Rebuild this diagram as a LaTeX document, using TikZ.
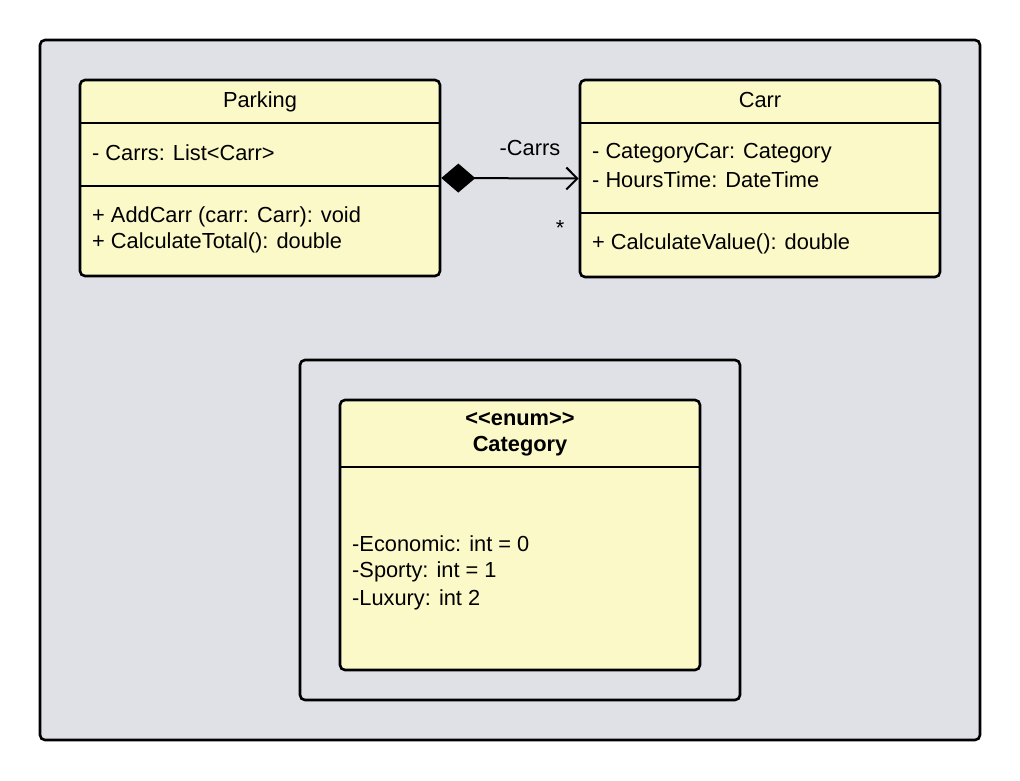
\documentclass[tikz,border=0pt]{standalone}
\usepackage{fontspec}
\setmainfont{Liberation Sans}[Ligatures=NoCommon]
\usetikzlibrary{arrows.meta}
\definecolor{bggray}{HTML}{DFE1E6}
\definecolor{umlyellow}{HTML}{FBF9C8}
\tikzset{
  frame/.style={draw=black, line width=2.6pt, rounded corners=5pt, fill=bggray},
  classbox/.style={draw=black, line width=2.6pt, rounded corners=5pt, fill=umlyellow, inner sep=0pt},
  divider/.style={draw=black, line width=2.6pt},
  txt/.style={font=\fontsize{21.8}{25}\selectfont, inner sep=0pt, anchor=west},
  ttl/.style={font=\fontsize{21.8}{25}\selectfont, inner sep=0pt},
  btxt/.style={font=\fontsize{21.8}{25}\selectfont\bfseries, inner sep=0pt},
  assoc/.style={line width=2pt, {Diamond[length=34pt,width=29pt]}-{Straight Barb[length=11pt,width=22pt,line width=2pt]}}
}
\begin{document}
\begin{tikzpicture}[x=1pt,y=-1pt]
\useasboundingbox (0,0) rectangle (1020,780);
% outer frame
\node[frame, minimum width=940pt, minimum height=700pt, inner sep=0pt] (outer) at (510,390) {};
% Parking class
\node[classbox, minimum width=360pt, minimum height=196pt] (parking) at (260,178) {};
\draw[divider] (80,123) -- (440,123);
\draw[divider] (80,186) -- (440,186);
\node[ttl] (ptitle) at (260,102) {Parking};
\node[txt] (pa1) at (92,153) {- Carrs: List\textless Carr\textgreater};
\node[txt] (pm1) at (92,216.5) {+ AddCarr (carr: Carr): void};
\node[txt] (pm2) at (92,242.5) {+ CalculateTotal(): double};
% Carr class
\node[classbox, minimum width=360pt, minimum height=197pt] (carr) at (760,178.5) {};
\draw[divider] (580,123) -- (940,123);
\draw[divider] (580,213) -- (940,213);
\node[ttl] (ctitle) at (760,100) {Carr};
\node[txt] (ca1) at (592,153) {- CategoryCar: Category};
\node[txt] (ca2) at (592,179.5) {- HoursTime: DateTime};
\node[txt] (cm1) at (592,243.5) {+ CalculateValue(): double};
% association
\draw[assoc] (parking.east) -- (carr.west);
\node[ttl] (rolelbl) at (530,148) {-Carrs};
\node[ttl] (multlbl) at (560,228) {*};
% enum package
\node[frame, minimum width=440pt, minimum height=340pt, inner sep=0pt] (pkg) at (520,530) {};
\node[classbox, minimum width=360pt, minimum height=270pt] (cat) at (520,535) {};
\draw[divider] (340,467) -- (700,467);
\node[btxt] (stereo) at (520,419) {\textless{}\textless{}enum\textgreater{}\textgreater{}};
\node[btxt] (cname) at (520,446) {Category};
\node[txt] (e1) at (352,543.5) {-Economic: int = 0};
\node[txt] (e2) at (352,571.5) {-Sporty: int = 1};
\node[txt] (e3) at (352,599.5) {-Luxury: int 2};
\end{tikzpicture}
\end{document}
